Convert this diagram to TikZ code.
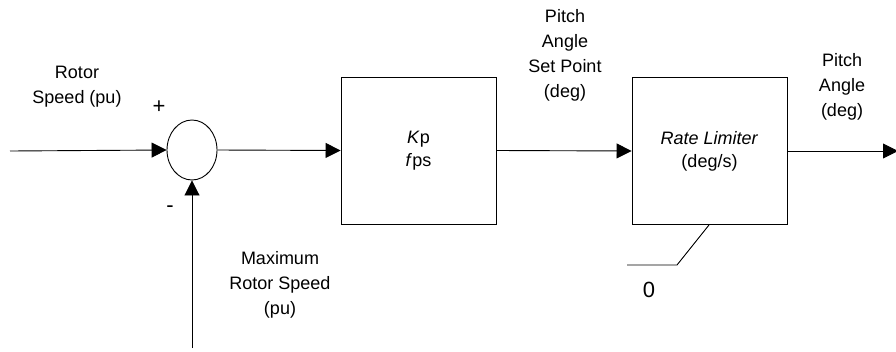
\documentclass[tikz,border=0pt]{standalone}
\usepackage{fontspec}
\setmainfont{Liberation Sans}
\usetikzlibrary{arrows.meta,shapes.geometric}
\begin{document}
\begin{tikzpicture}[x=1pt,y=-1pt,
  line width=0.9pt,
  lbl/.style={align=center,font=\fontsize{18}{25}\selectfont,inner sep=0pt},
  sgn/.style={inner sep=0pt,font=\fontsize{22}{22}\selectfont},
  blk/.style={draw,minimum width=155pt,minimum height=147pt,inner sep=0pt,align=center,font=\fontsize{18}{23}\selectfont},
  arr/.style={-{Triangle[length=15pt,width=15pt]}}]
\useasboundingbox (0,0) rectangle (896,351);
\node[draw,ellipse,minimum width=50pt,minimum height=60pt,inner sep=0pt] (sum) at (192,150) {};
\node[blk] (kp) at (418.5,150.5) {\textit{K}p\\\textit{f}ps};
\node[blk] (rl) at (709.5,151) {\textit{Rate Limiter}\\(deg/s)};
\coordinate (in) at (10,151);
\coordinate (fb) at (192,348);
\coordinate (out) at (898,151);
\coordinate (lk) at (677,265);
\coordinate (lz) at (627,265);
\draw[arr] (in) -- (sum.west);
\draw[arr] (fb) -- (sum.south);
\draw[arr] (sum.east) -- (kp.west);
\draw[arr] (kp.east) -- (rl.west);
\draw[arr] (rl.east) -- (out);
\draw (rl.south -| 709,0) -- (lk) -- (lz);
\node[lbl] (rs) at (77,87) {Rotor\\Speed (pu)};
\node[sgn] (plus) at (159,107) {+};
\node[sgn] (minus) at (170,209) {-};
\node[lbl] (mrs) at (280,285) {Maximum\\Rotor Speed\\(pu)};
\node[lbl] (pasp) at (565,55) {Pitch\\Angle\\Set Point\\(deg)};
\node[lbl] (pa) at (842,87) {Pitch\\Angle\\(deg)};
\node[sgn] (zero) at (649,290) {0};
\end{tikzpicture}
\end{document}
